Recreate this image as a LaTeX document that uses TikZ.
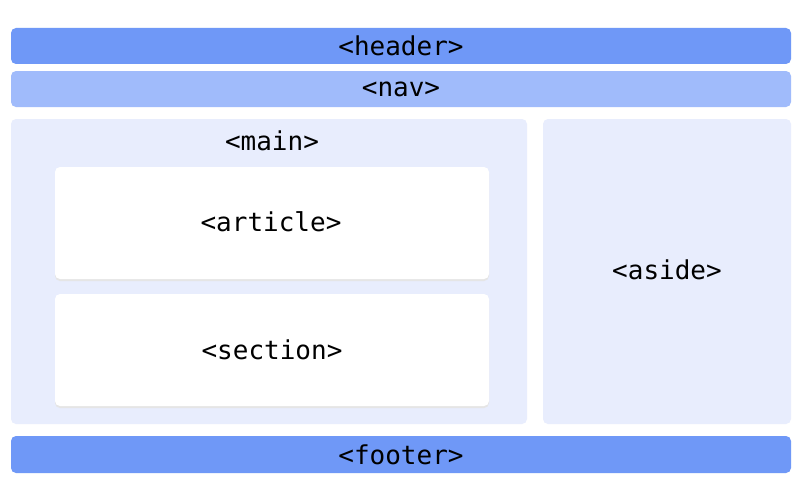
\documentclass[tikz,border=0pt]{standalone}
\usepackage{fontspec}
\setmonofont{DejaVu Sans Mono}
\begin{document}
\begin{tikzpicture}[x=1pt,y=-1pt]
\definecolor{hdr}{HTML}{6F98F7}
\definecolor{navc}{HTML}{A0BBFB}
\definecolor{pane}{HTML}{E8EDFD}
\tikzset{
  band/.style={rounded corners=5pt},
  lbl/.style={font=\ttfamily\fontsize{26}{30}\selectfont, text=black},
}
\useasboundingbox (0,0) rectangle (800,495);
\fill[white] (0,0) rectangle (800,495);
\fill[band,hdr] (11,28) rectangle (791,64);
\node[lbl] (header) at (401,46) {<header>};
\fill[band,navc] (11,71) rectangle (791,107);
\node[lbl] (nav) at (401,89) {<nav>};
\fill[band,pane] (11,119) rectangle (527,424);
\node[lbl] (main) at (272,141) {<main>};
\fill[band,pane] (543,119) rectangle (791,424);
\node[lbl] (aside) at (667,270) {<aside>};
\fill[band,black!10] (55,169) rectangle (489,281);
\fill[band,white] (55,167) rectangle (489,279);
\node[lbl] (article) at (271,222) {<article>};
\fill[band,black!10] (55,296) rectangle (489,408);
\fill[band,white] (55,294) rectangle (489,406);
\node[lbl] (section) at (272,350) {<section>};
\fill[band,hdr] (11,436) rectangle (791,473);
\node[lbl] (footer) at (401,455) {<footer>};
\end{tikzpicture}
\end{document}
